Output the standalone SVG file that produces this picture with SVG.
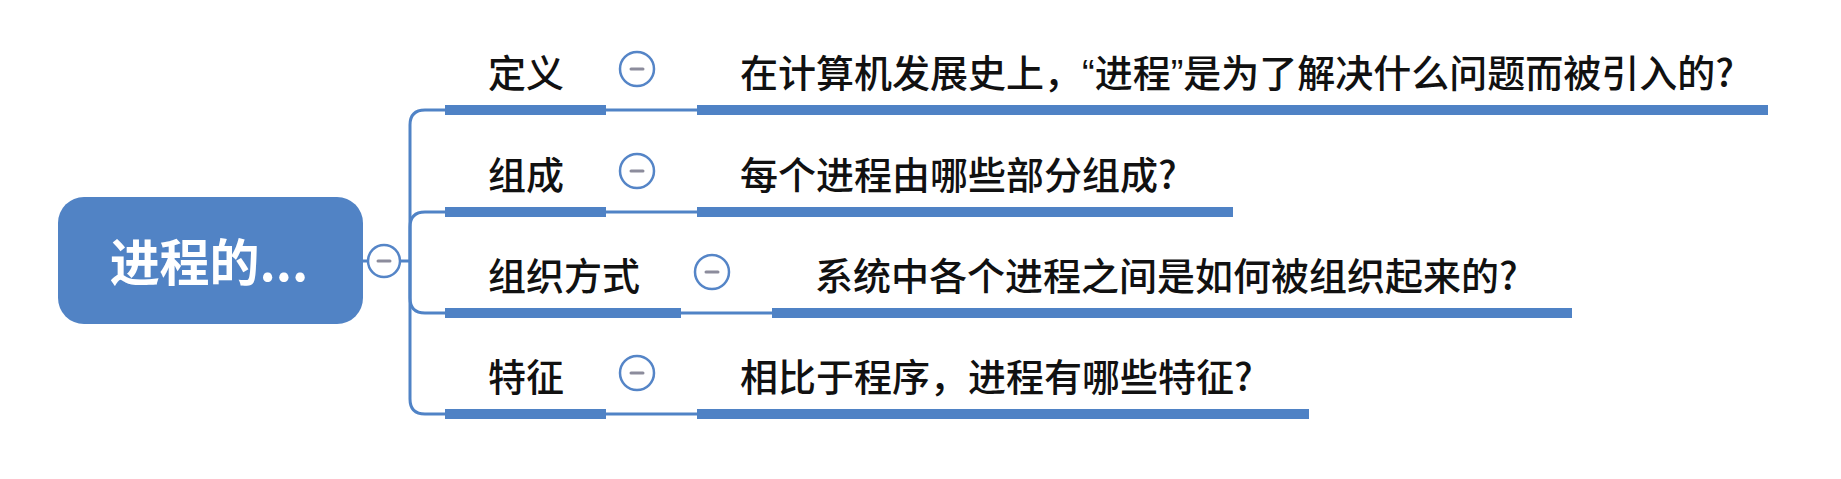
<svg xmlns="http://www.w3.org/2000/svg" width="1841" height="479" viewBox="0 0 1841 479">
<style>
.thin{fill:none;stroke:#5083c6;stroke-width:3}
.thick{fill:none;stroke:#4f82c5;stroke-width:10}
.tog{fill:#ffffff;stroke:#5585c7;stroke-width:2.5}
.minus{stroke:#8c8c9c;stroke-width:3;stroke-linecap:round}
.lbl{font-family:"Noto Sans CJK SC","Noto Sans",sans-serif;font-size:38px;font-weight:500;fill:#111111}
.q{font-family:"Noto Sans CJK SC","Noto Sans",sans-serif;font-size:38px;font-weight:500;fill:#111111}
.nar{font-family:"Liberation Sans",sans-serif}
.root{font-family:"Noto Sans CJK SC","Noto Sans",sans-serif;font-size:50px;font-weight:bold;fill:#ffffff}
</style>
<rect width="1841" height="479" fill="#ffffff"/>
<g id="connectors">
<path class="thin" d="M363,261 H368"/>
<path class="thin" d="M400,261 H410"/>
<path class="thin" d="M410,261 V125 Q410,110 425,110 H697"/>
<path class="thin" d="M410,261 V227 Q410,212 425,212 H697"/>
<path class="thin" d="M410,261 V298 Q410,313 425,313 H772"/>
<path class="thin" d="M410,261 V399 Q410,414 425,414 H697"/>
</g>
<g id="root">
<rect x="58" y="197" width="305" height="127" rx="26" fill="#5183c5"/>
<text class="root" x="209" y="281" text-anchor="middle">进程的...</text>
<circle class="tog" cx="384" cy="261" r="16"/>
<line class="minus" x1="378" y1="261" x2="390" y2="261"/>
</g>
<g id="n-dingyi">
<line class="thick" x1="445" y1="110" x2="606" y2="110"/>
<text class="lbl" x="488" y="87">定义</text>
<circle class="tog" cx="637" cy="69" r="17"/>
<line class="minus" x1="631" y1="69" x2="643" y2="69"/>
</g>
<g id="q-dingyi">
<line class="thick" x1="697" y1="110" x2="1768" y2="110"/>
<text class="q" x="740" y="87">在计算机发展史上，<tspan class="nar">“</tspan>进程<tspan class="nar">”</tspan>是为了解决什么问题而被引入的?</text>
</g>
<g id="n-zucheng">
<line class="thick" x1="445" y1="212" x2="606" y2="212"/>
<text class="lbl" x="488" y="189">组成</text>
<circle class="tog" cx="637" cy="171" r="17"/>
<line class="minus" x1="631" y1="171" x2="643" y2="171"/>
</g>
<g id="q-zucheng">
<line class="thick" x1="697" y1="212" x2="1233" y2="212"/>
<text class="q" x="740" y="189">每个进程由哪些部分组成?</text>
</g>
<g id="n-zuzhi">
<line class="thick" x1="445" y1="313" x2="681" y2="313"/>
<text class="lbl" x="488" y="290">组织方式</text>
<circle class="tog" cx="712" cy="272" r="17"/>
<line class="minus" x1="706" y1="272" x2="718" y2="272"/>
</g>
<g id="q-zuzhi">
<line class="thick" x1="772" y1="313" x2="1572" y2="313"/>
<text class="q" x="815" y="290">系统中各个进程之间是如何被组织起来的?</text>
</g>
<g id="n-tezheng">
<line class="thick" x1="445" y1="414" x2="606" y2="414"/>
<text class="lbl" x="488" y="391">特征</text>
<circle class="tog" cx="637" cy="373" r="17"/>
<line class="minus" x1="631" y1="373" x2="643" y2="373"/>
</g>
<g id="q-tezheng">
<line class="thick" x1="697" y1="414" x2="1309" y2="414"/>
<text class="q" x="740" y="391">相比于程序，进程有哪些特征?</text>
</g>
</svg>
